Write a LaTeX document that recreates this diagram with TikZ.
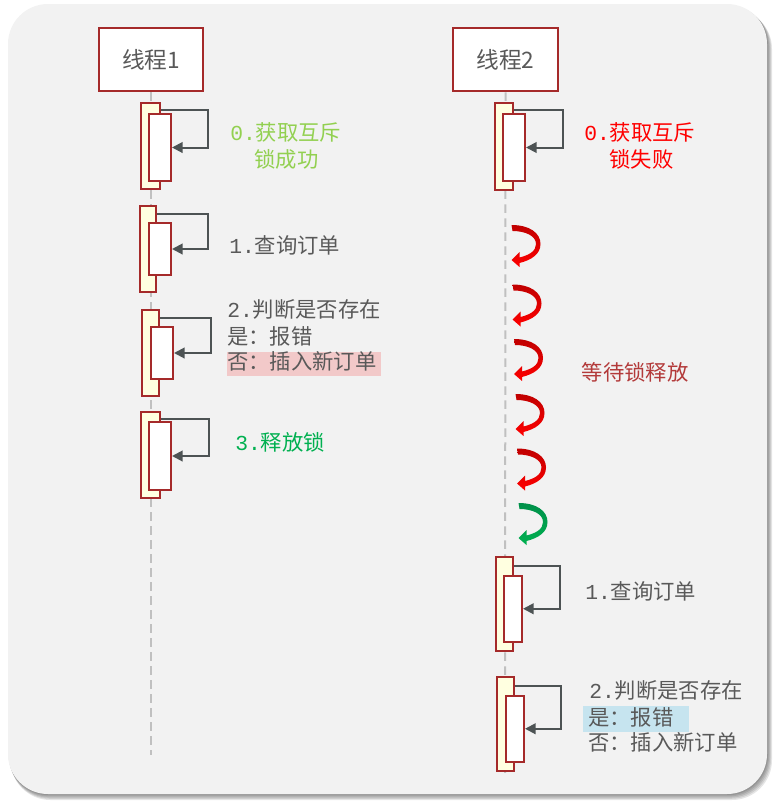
\documentclass[tikz,border=0pt]{standalone}
\usepackage{fontspec}
\newfontfamily\cjk{Noto Sans CJK SC}
\newfontfamily\mono{Liberation Mono}
\usetikzlibrary{arrows.meta,fit}
\definecolor{bg}{HTML}{F2F2F2}
\definecolor{boxred}{HTML}{A52A2A}
\definecolor{actfill}{HTML}{FFFFE0}
\definecolor{txtgray}{HTML}{595959}
\definecolor{lightgreen}{HTML}{92D050}
\definecolor{greentwo}{HTML}{00B050}
\definecolor{linegray}{HTML}{C0C0C0}
\definecolor{arrowgray}{HTML}{4D5354}
\definecolor{waitred}{HTML}{B33A3A}
\definecolor{pinkhl}{HTML}{F2C9C9}
\definecolor{bluehl}{HTML}{C6E4EF}
\definecolor{darkred}{HTML}{C00000}
\definecolor{brightred}{HTML}{FF0000}
\definecolor{darkgreen}{HTML}{00904A}
\tikzset{
  thread/.style={draw=boxred, line width=1.9pt, fill=white, inner sep=0pt},
  actout/.style={draw=boxred, line width=1.5pt, fill=actfill, inner sep=0pt},
  actin/.style={draw=boxred, line width=1.5pt, fill=white, inner sep=0pt},
  loopar/.style={draw=arrowgray, line width=1.5pt, -{Triangle[length=8pt,width=8pt]}},
  lifeline/.style={draw=linegray, line width=1.5pt, dash pattern=on 6.5pt off 4pt},
  lbl/.style={inner sep=0pt, anchor=west, text height=0.76em, text depth=0pt, text=txtgray,
    font=\cjk\fontsize{16}{19}\selectfont},
  clbl/.style={lbl, anchor=center},
  ttl/.style={inner sep=0pt, text=txtgray, font=\cjk\fontsize{17}{20}\selectfont}
}
\newcommand\waitarrow[4]{%
  \shade[top color=#3, bottom color=#4, shift={(#1,#2)}]
    (0,0) .. controls (18,0) and (29,8) .. (29,19)
    .. controls (29,29) and (20,35) .. (8,38) -- (8,42) -- (0,35) -- (8,27) -- (8,32.5)
    .. controls (18,30) and (24.5,26) .. (24.5,19)
    .. controls (24.5,11) and (14,6) .. (1,6) -- cycle;}
\begin{document}
\begin{tikzpicture}[x=0.75pt,y=-0.75pt]
\useasboundingbox (0,0) rectangle (782,810);
% background with shadow
\foreach \i in {1,...,5}{
  \fill[black, opacity=0.1, rounded corners=30pt] (8+\i*0.5,4+\i) rectangle (767+\i,794+\i*1.2);
}
\fill[bg, rounded corners=30pt] (8,4) rectangle (767,794);

% thread headers
\node[thread, fit={(99,28) (203,91)}] (th1) {};
\node[ttl] (th1t) at (th1) {线程1};
\node[thread, fit={(453,28) (558,91)}] (th2) {};
\node[ttl] (th2t) at (th2) {线程2};

% lifelines
\coordinate (end1) at (151,755);
\coordinate (end2) at (505,778);
\draw[lifeline] (th1.south) -- (end1);
\draw[lifeline] (th2.south) -- (end2);

% thread 1 activations
\node[actout, fit={(141,103) (160,189)}] (a0o) {};
\node[actin, fit={(148.5,114) (171,181)}] (a0i) {};
\draw[loopar] (a0o.east |- 0,110) -- (208,110) |- (a0i.east);

\node[actout, fit={(139.5,206) (156,292)}] (a1o) {};
\node[actin, fit={(148.5,223) (171,275)}] (a1i) {};
\draw[loopar] (a1o.east |- 0,214) -- (208,214) |- (a1i.east);

\node[actout, fit={(142,310) (158.5,396)}] (a2o) {};
\node[actin, fit={(151,327) (173,379)}] (a2i) {};
\draw[loopar] (a2o.east |- 0,318) -- (210.5,318) |- (a2i.east);

\node[actout, fit={(141,412) (160,497.5)}] (a3o) {};
\node[actin, fit={(148.5,422) (171,490)}] (a3i) {};
\draw[loopar] (a3o.east |- 0,419) -- (209,419) |- (a3i.east);

% thread 2 activations
\node[actout, fit={(495,103) (513,190)}] (b0o) {};
\node[actin, fit={(502.5,114) (525,181)}] (b0i) {};
\draw[loopar] (b0o.east |- 0,110) -- (563,110) |- (b0i.east);

\node[actout, fit={(496,557) (512.5,650.5)}] (b1o) {};
\node[actin, fit={(503.5,576) (522,641.5)}] (b1i) {};
\draw[loopar] (b1o.east |- 0,566) -- (560,566) |- (b1i.east);

\node[actout, fit={(497,677) (513.5,771)}] (b2o) {};
\node[actin, fit={(506,696) (524,761.5)}] (b2i) {};
\draw[loopar] (b2o.east |- 0,686) -- (561,686) |- (b2i.east);

% waiting arrows
\waitarrow{511.5}{225}{darkred}{brightred}
\waitarrow{512.5}{284.5}{darkred}{brightred}
\waitarrow{514}{339}{darkred}{brightred}
\waitarrow{515.5}{394}{darkred}{brightred}
\waitarrow{517}{448.5}{darkred}{brightred}
\waitarrow{518.5}{503}{darkgreen}{greentwo}

% highlights
\fill[pinkhl] (226.7,351.7) rectangle (381,376);
\fill[bluehl] (583.3,706) rectangle (689,731.7);

% labels thread 1
\node[lbl, text=lightgreen] (l10) at (230,135) {{\mono 0.}获取互斥};
\node[clbl, text=lightgreen] (l10b) at (286.5,162) {锁成功};
\node[lbl] (l11) at (229,248) {{\mono 1.}查询订单};
\node[lbl] (l12) at (227,312) {{\mono 2.}判断是否存在};
\node[lbl] (l12b) at (227,339) {是：报错};
\node[lbl] (l12c) at (227,364) {否：插入新订单};
\node[lbl, text=greentwo] (l13) at (235,445) {{\mono 3.}释放锁};

% labels thread 2
\node[lbl, text=brightred] (l20) at (584,135) {{\mono 0.}获取互斥};
\node[clbl, text=brightred] (l20b) at (641.5,162) {锁失败};
\node[lbl, text=waitred] (lw) at (581.5,375) {等待锁释放};
\node[lbl] (l21) at (585,594) {{\mono 1.}查询订单};
\node[lbl] (l22) at (589,693) {{\mono 2.}判断是否存在};
\node[lbl] (l22b) at (588,720) {是：报错};
\node[lbl] (l22c) at (588,745) {否：插入新订单};
\end{tikzpicture}
\end{document}
